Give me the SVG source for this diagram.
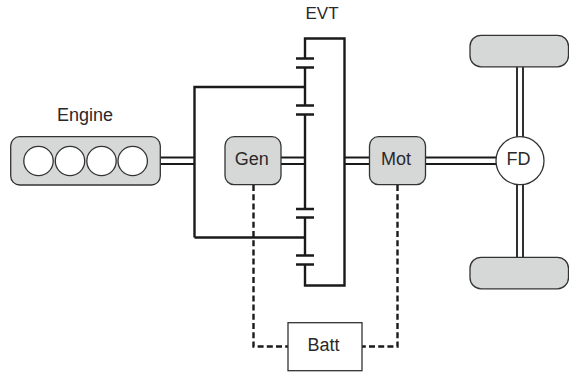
<svg xmlns="http://www.w3.org/2000/svg" width="569" height="372" viewBox="0 0 569 372">
<style>
.box{fill:#d6d8d8;stroke:#333;stroke-width:1.3}
.white{fill:#fff;stroke:#333;stroke-width:1.3}
.t{font-family:"Liberation Sans",Arial,sans-serif;font-size:18px;fill:#2b2829;text-anchor:middle}
.thick{fill:none;stroke:#1a1a1a;stroke-width:2.4}
.shaft{fill:none;stroke:#1a1a1a;stroke-width:1.8}
.dash{fill:none;stroke:#1a1a1a;stroke-width:2.4;stroke-dasharray:6 3.2}
</style>
<g id="connectors">
<path class="shaft" d="M160 157.500H194M160 164H194M281 157.500H305M281 164H305M345 157.500H370M345 164H370M425 157.500H496M425 164H496"/>
<path class="shaft" d="M517 67V137M523 67V137M517 184V258M523 184V258"/>
<path class="thick" d="M194.500 237.500V87H305"/>
<path class="thick" d="M194.500 237.500H305"/>
<path class="thick" d="M305 58.500V38.500H344.500V285.500H305V264.500"/>
<path class="thick" d="M305 67.500V105.500M305 114.500V209M305 217.500V255.500"/>
<path class="thick" d="M296 58.500H314M296 67.500H314M296 105.500H314M296 114.500H314M296 209H314M296 217.500H314M296 255.500H314M296 264.500H314"/>
<path class="dash" d="M253.500 185V346.500H288M397.500 185V346.500H362"/>
</g>
<g id="engine">
<rect class="box" x="10.700" y="136.700" width="149.600" height="48.300" rx="9"/>
<circle class="white" cx="38.500" cy="161" r="14.700"/>
<circle class="white" cx="70" cy="161" r="14.700"/>
<circle class="white" cx="101.500" cy="161" r="14.700"/>
<circle class="white" cx="132.700" cy="161" r="14.700"/>
<text class="t" x="85" y="121">Engine</text>
</g>
<g id="gen"><rect class="box" x="225" y="136.700" width="56" height="48" rx="9"/><text class="t" x="251.700" y="165">Gen</text></g>
<g id="mot"><rect class="box" x="369.500" y="136.700" width="56" height="48" rx="9"/><text class="t" x="396" y="165">Mot</text></g>
<g id="evt"><text class="t" style="font-size:17px" x="322" y="18.500">EVT</text></g>
<g id="batt"><rect class="white" x="288" y="322.700" width="74" height="48"/><text class="t" x="323.500" y="351">Batt</text></g>
<g id="fd"><circle class="white" cx="520" cy="160.700" r="24"/><text class="t" x="518.500" y="165">FD</text></g>
<g id="wheel-top"><rect class="box" x="470" y="35.300" width="98.500" height="31.500" rx="11"/></g>
<g id="wheel-bottom"><rect class="box" x="470" y="257.300" width="98.500" height="31.500" rx="11"/></g>
</svg>
